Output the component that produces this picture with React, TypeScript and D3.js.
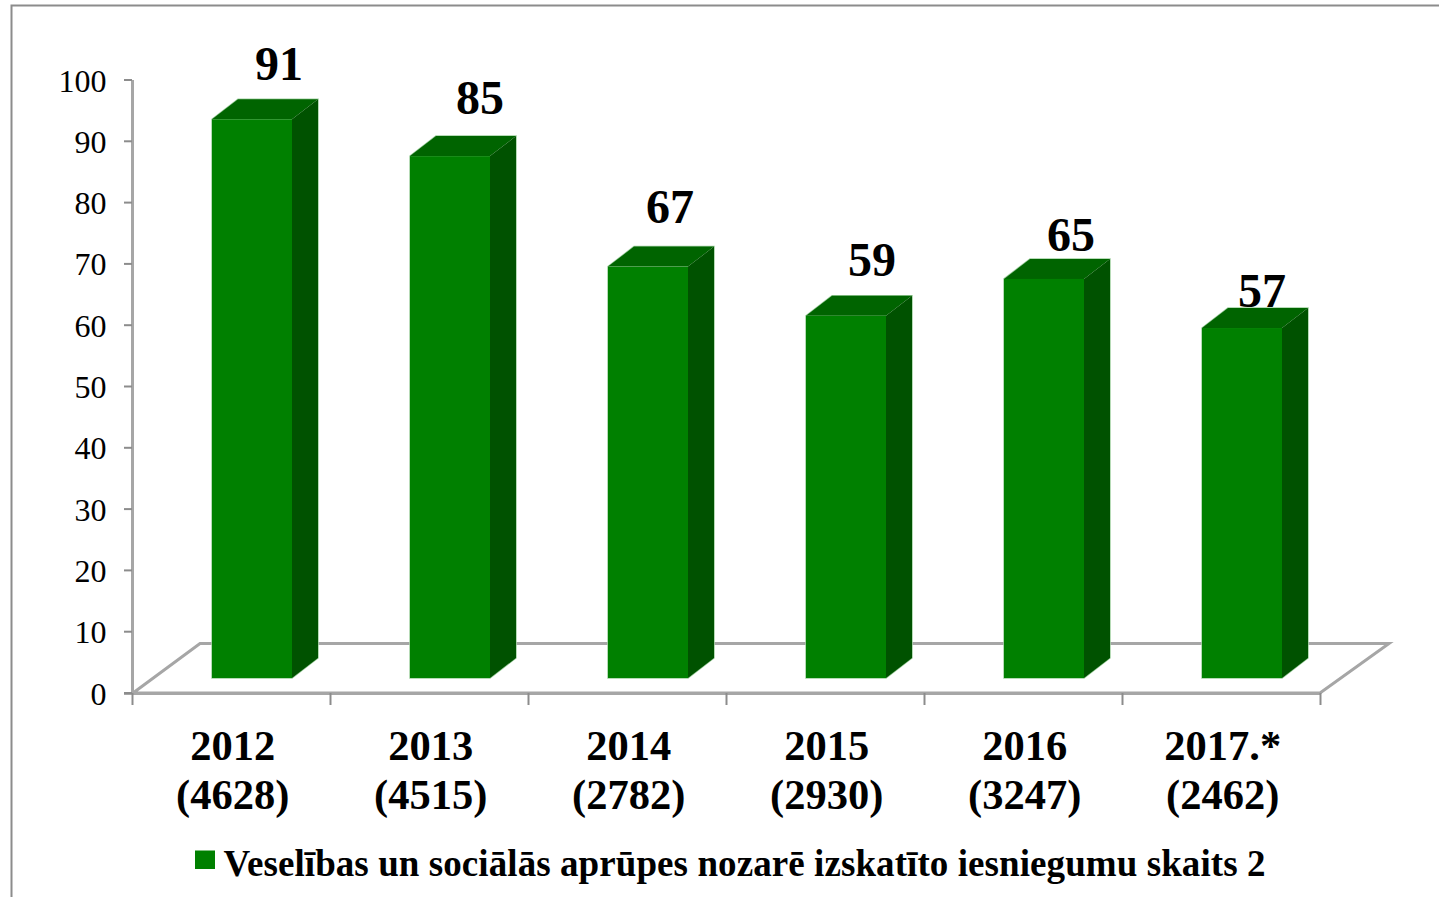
import React from "react";
import * as d3 from "d3";

const categories = ["2012", "2013", "2014", "2015", "2016", "2017.*"];
const counts = ["(4628)", "(4515)", "(2782)", "(2930)", "(3247)", "(2462)"];
const values = [91, 85, 67, 59, 65, 57];
const yTicks = d3.range(0, 101, 10);
const legendText = "Veselības un sociālās aprūpes nozarē izskatīto iesniegumu skaits 2";

const FONT = "'Liberation Serif', 'Times New Roman', serif";
const AXIS = "#a6a6a6";
const dx = 26;
const dy = -20;
const barW = 80;
const labelShiftX = [0, 3, -5, -1, 0, -7];
const labelShiftY = [1, -2, -4, 0, 12, 19];

export default function App() {
  const x = d3.scaleBand<string>().domain(categories).range([132, 1320]);
  const yAxis = d3.scaleLinear().domain([0, 100]).range([693, 80]);
  const yBar = d3.scaleLinear().domain([0, 100]).range([678, 64]);
  const ticksX = [...categories.map((c) => x(c)!), 1320];
  const poly = (pts: number[][]) => pts.map((p) => p.join(",")).join(" ");

  return (
    <svg
      width={1439}
      height={897}
      style={{ position: "absolute", left: 0, top: 0, background: "#fff" }}
      fontFamily={FONT}
    >
      <path d="M11.5,897V5.5H1439" fill="none" stroke="#8c8c8c" strokeWidth={2} />

      <polygon
        points={poly([[133, 693], [200, 643.5], [1389, 643.5], [1320, 693]])}
        fill="#fff"
        stroke={AXIS}
        strokeWidth={3}
      />
      <line x1={132.5} x2={132.5} y1={80} y2={693} stroke={AXIS} strokeWidth={3} />
      <line x1={124} x2={1320} y1={693.5} y2={693.5} stroke={AXIS} strokeWidth={3} />

      {yTicks.map((t) => (
        <g key={t}>
          <line x1={124} x2={132} y1={yAxis(t)} y2={yAxis(t)} stroke="#8c8c8c" strokeWidth={2} />
          <text x={106.5} y={yAxis(t) + 11.5} textAnchor="end" fontSize={32} fill="#000">
            {t}
          </text>
        </g>
      ))}
      {ticksX.map((t, i) => (
        <line key={i} x1={t + 0.5} x2={t + 0.5} y1={693} y2={705} stroke="#8c8c8c" strokeWidth={2} />
      ))}

      {categories.map((c, i) => {
        const left = x(c)! + 80;
        const right = left + barW;
        const top = yBar(values[i]);
        const bottom = yBar(0);
        const center = x(c)! + x.bandwidth() / 2 + 1.7;
        return (
          <g key={c}>
            <polygon
              points={poly([
                [left, top],
                [left + dx, top + dy],
                [right + dx, top + dy],
                [right + dx, bottom + dy],
                [right, bottom],
                [left, bottom],
              ])}
              fill="none"
              stroke="#9fcf9f"
              strokeWidth={1.5}
            />
            <polygon
              points={poly([[left, top], [left + dx, top + dy], [right + dx, top + dy], [right, top]])}
              fill="#006400"
            />
            <polygon
              points={poly([[right, top], [right + dx, top + dy], [right + dx, bottom + dy], [right, bottom]])}
              fill="#005200"
            />
            <rect x={left} y={top} width={barW} height={bottom - top} fill="#008000" />
            <text
              x={left + 67 + labelShiftX[i]}
              y={top + dy - 20 + labelShiftY[i]}
              textAnchor="middle"
              fontSize={48}
              fontWeight="bold"
              fill="#000"
            >
              {values[i]}
            </text>
            <text x={center} y={760} textAnchor="middle" fontSize={42.5} fontWeight="bold" fill="#000">
              {c}
            </text>
            <text x={center} y={809} textAnchor="middle" fontSize={42.5} fontWeight="bold" fill="#000">
              {counts[i]}
            </text>
          </g>
        );
      })}

      <rect x={195} y={850.5} width={20} height={18.5} fill="#008000" />
      <text x={223.5} y={875.5} fontSize={37} fontWeight="bold" fill="#000" textLength={1042} lengthAdjust="spacing">
        {legendText}
      </text>
    </svg>
  );
}
